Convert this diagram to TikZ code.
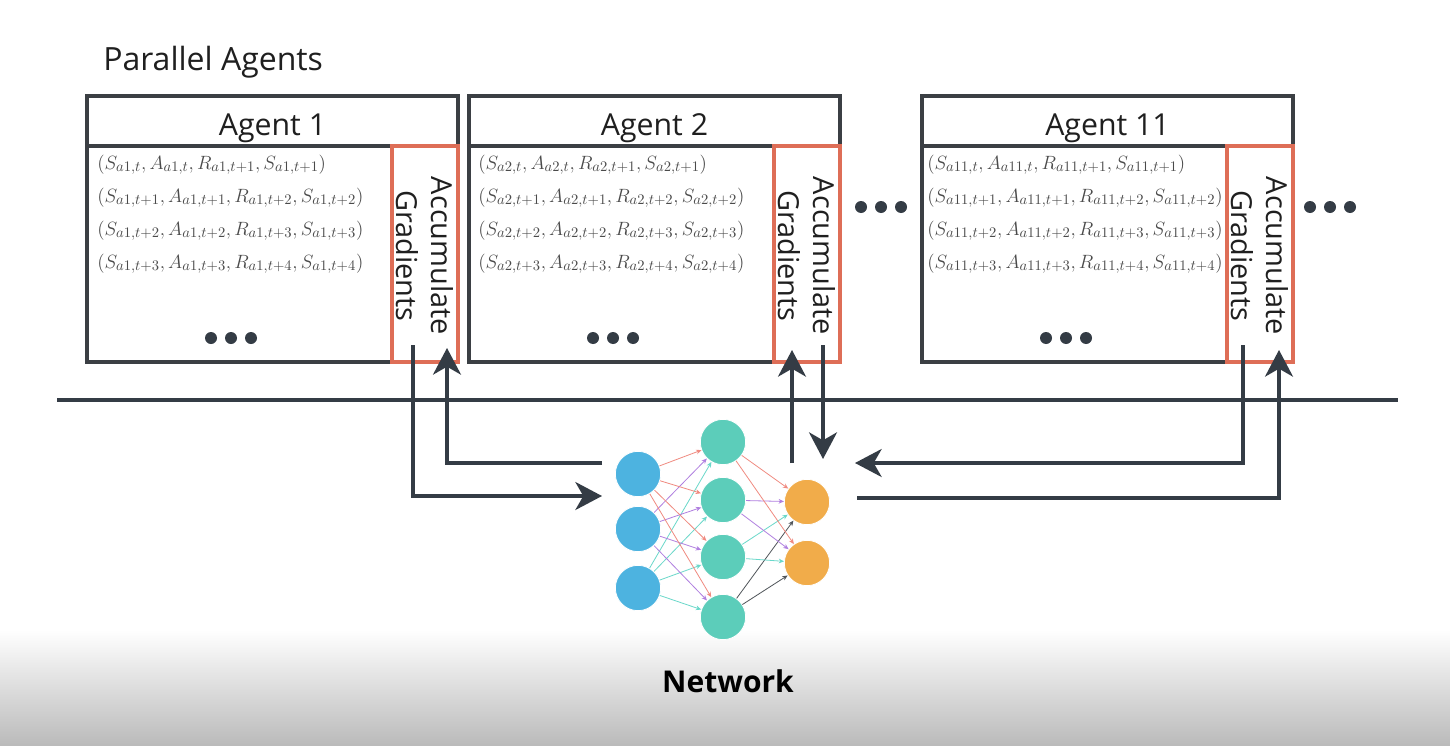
\documentclass[tikz,border=0pt]{standalone}
\usepackage[no-math]{fontspec}
\setmainfont{Open Sans}
\usetikzlibrary{arrows.meta}
\definecolor{ink}{HTML}{343C45}
\definecolor{boxline}{HTML}{3B3F44}
\definecolor{gradred}{HTML}{DE6E57}
\definecolor{tupgray}{HTML}{4A4A4A}
\definecolor{nblue}{HTML}{4DB3E0}
\definecolor{nteal}{HTML}{5CCDBA}
\definecolor{norange}{HTML}{F1AC4A}
\definecolor{ered}{HTML}{F08A80}
\definecolor{epurple}{HTML}{B07FE0}
\definecolor{ecyan}{HTML}{6AD8CA}
\definecolor{egray}{HTML}{50555A}
\begin{document}
\begin{tikzpicture}[x=0.75pt,y=-0.75pt,
  agentbox/.style={draw=boxline, line width=2.6pt},
  redbox/.style={draw=gradred, line width=2.3pt},
  titletext/.style={font=\fontsize{24}{28}\selectfont, text=black!88, inner sep=0pt},
  bigtext/.style={font=\fontsize{22.7}{27}\selectfont, text=black!88, inner sep=0pt},
  tuple/.style={font=\fontsize{15.6}{18}\selectfont, text=tupgray, inner sep=0pt, anchor=base west},
  gradtext/.style={font=\fontsize{21.7}{26}\selectfont, text=black!88, rotate=-90, align=center, inner sep=0pt},
  dotmark/.style={fill=ink, draw=none, circle, minimum size=9pt, inner sep=0pt},
  bigarrow/.style={draw=ink, line width=2.4pt, -{Stealth[length=20pt, width=21pt, inset=6pt]}},
  ncirc/.style={circle, draw=white, line width=0.6pt, minimum size=34pt, inner sep=0pt},
  nedge/.style={line width=0.6pt, -{Stealth[length=4pt, width=3.5pt]}}
]
\useasboundingbox (0,0) rectangle (1450,746);
\fill[white] (0,0) rectangle (1450,746);
\shade[top color=white, bottom color=black!27] (0,630) rectangle (1450,746);

\node[titletext, anchor=base west] (title) at (103,70) {Parallel Agents};

% agents
\foreach \L/\k/\off in {87/1/10, 469/2/9, 922/11/5} {
  \draw[agentbox] (\L,96) rectangle ++(371,266);
  \draw[agentbox] (\L,146) -- ++(371,0);
  \node[bigtext, anchor=base] (hdr\k) at (\L+185.5,135) {Agent \k};
  \node[tuple] (t\k a) at (\L+\off,169) {$(S_{a\k,t}, A_{a\k,t}, R_{a\k,t+1}, S_{a\k,t+1})$};
  \node[tuple] (t\k b) at (\L+\off,202) {$(S_{a\k,t+1}, A_{a\k,t+1}, R_{a\k,t+2}, S_{a\k,t+2})$};
  \node[tuple] (t\k c) at (\L+\off,235) {$(S_{a\k,t+2}, A_{a\k,t+2}, R_{a\k,t+3}, S_{a\k,t+3})$};
  \node[tuple] (t\k d) at (\L+\off,268) {$(S_{a\k,t+3}, A_{a\k,t+3}, R_{a\k,t+4}, S_{a\k,t+4})$};
  \draw[redbox] (\L+305,146) rectangle (\L+371,362);
  \node[gradtext] (g\k) at (\L+338,256) {Accumulate\\Gradients};
  \foreach \d in {-20,0,20} \node[dotmark] at (\L+144+\d,338) {};
}
% dots between agents
\foreach \c in {881,1330} \foreach \d in {-20,0,20} \node[dotmark] at (\c+\d,207) {};

% separator
\draw[line width=2.4pt, draw=ink] (57,400) -- (1398,400);

% network
\foreach \i/\y in {1/474,2/529,3/588} \node[ncirc, fill=nblue] (b\i) at (638,\y) {};
\foreach \i/\y in {1/442,2/500,3/557,4/617} \node[ncirc, fill=nteal] (h\i) at (723,\y) {};
\foreach \i/\y in {1/502,2/563} \node[ncirc, fill=norange] (o\i) at (807,\y) {};
\foreach \j in {1,2,3,4} {
  \draw[nedge, ered] (b1) -- (h\j);
  \draw[nedge, epurple] (b2) -- (h\j);
  \draw[nedge, ecyan] (b3) -- (h\j);
}
\foreach \j in {1,2} {
  \draw[nedge, ered] (h1) -- (o\j);
  \draw[nedge, epurple] (h2) -- (o\j);
  \draw[nedge, ecyan] (h3) -- (o\j);
  \draw[nedge, egray] (h4) -- (o\j);
}
\node[font=\fontsize{22.5}{28}\selectfont\bfseries, inner sep=0pt, anchor=base] (net) at (728,692) {Network};

% connectors
\coordinate (a1out) at (413,345);
\coordinate (a1tip) at (602,496);
\coordinate (a1src) at (602,463);
\coordinate (a1in) at (447,348);
\coordinate (a2src) at (792,463);
\coordinate (a2in) at (792,350);
\coordinate (a2out) at (823,345);
\coordinate (a2tip) at (823,459);
\coordinate (a3out) at (1243,345);
\coordinate (a3tip) at (855,463);
\coordinate (a3src) at (857,498);
\coordinate (a3in) at (1279,350);

\draw[bigarrow] (a1out) |- (a1tip);
\draw[bigarrow] (a1src) -| (a1in);
\draw[bigarrow] (a2src) -- (a2in);
\draw[bigarrow] (a2out) -- (a2tip);
\draw[bigarrow] (a3out) |- (a3tip);
\draw[bigarrow] (a3src) -| (a3in);
\end{tikzpicture}
\end{document}
